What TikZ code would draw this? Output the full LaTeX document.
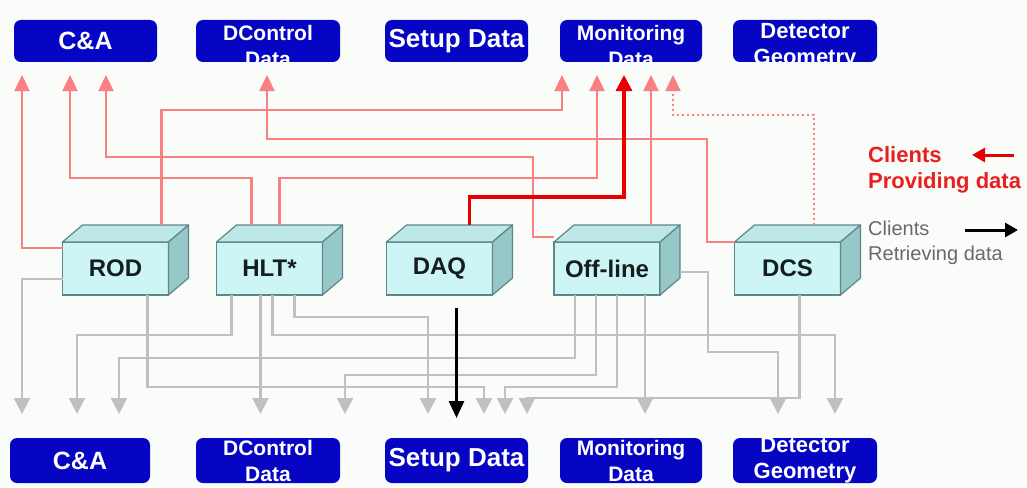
\documentclass[tikz,border=0pt]{standalone}
\usepackage{fontspec}
\setmainfont{Liberation Sans}
\usetikzlibrary{arrows.meta,calc}
\definecolor{bgc}{RGB}{250,252,250}
\definecolor{dbblue}{RGB}{5,5,195}
\definecolor{cubefrontc}{RGB}{205,245,245}
\definecolor{cubetopc}{RGB}{190,232,232}
\definecolor{cubesidec}{RGB}{150,200,200}
\definecolor{cubeedgec}{RGB}{95,135,135}
\definecolor{redlite}{RGB}{248,128,128}
\definecolor{redfull}{RGB}{232,0,0}
\definecolor{grayline}{RGB}{192,192,192}
\definecolor{legred}{RGB}{235,30,30}
\definecolor{leggray}{RGB}{105,105,105}
\tikzset{
  databox/.style={fill=dbblue, rounded corners=7pt, minimum height=42pt, inner sep=0pt, outer sep=0pt, text=white},
  boxlbl/.style={text=white, align=center, inner sep=0pt},
  cubefront/.style={draw=cubeedgec, fill=cubefrontc, line width=1.2pt, minimum width=106pt, minimum height=53pt, inner sep=0pt, outer sep=0pt, font=\bfseries\fontsize{24}{28}\selectfont, text={rgb,255:red,20;green,30;blue,30}},
  cubeface/.style={draw=cubeedgec, line width=1.2pt, line join=round},
  redarr/.style={draw=redlite, line width=2.3pt, -{Triangle[length=16pt,width=15pt]}, shorten >=13pt},
  redthick/.style={draw=redfull, line width=3.2pt, -{Triangle[length=16pt,width=16pt]}, shorten >=13pt},
  reddot/.style={draw=redlite, line width=2pt, dash pattern=on 2pt off 3pt, -{Triangle[length=16pt,width=15pt]}, shorten >=13pt},
  grayarr/.style={draw=grayline, line width=2.6pt, -{Triangle[length=16pt,width=16pt]}, shorten >=24pt},
  blackarr/.style={draw=black, line width=2.8pt, -{Triangle[length=17pt,width=15pt]}, shorten >=20pt},
  legredarr/.style={draw=redfull, line width=3pt, -{Triangle[length=13pt,width=14pt]}},
  legblackarr/.style={draw=black, line width=3pt, -{Triangle[length=13pt,width=14pt]}},
}
\newcommand\cubeblock[4]{%
  \node[cubefront] (#1) at (#2,#3) {#4};
  \filldraw[cubeface, fill=cubetopc] (#1.north west) -- ++(20,-17) -- ($(#1.north east)+(20,-17)$) -- (#1.north east) -- cycle;
  \filldraw[cubeface, fill=cubesidec] (#1.north east) -- ++(20,-17) -- ($(#1.south east)+(20,-17)$) -- (#1.south east) -- cycle;
}
% name, x, y, width, text, font size, height, text shift
\newcommand\twolinebox[8]{%
  \node[databox, minimum width=#4pt, minimum height=#7pt] (#1) at (#2,#3) {};
  \begin{scope}
    \clip[rounded corners=7pt] (#1.south west) rectangle (#1.north east);
    \node[boxlbl, font=\bfseries\fontsize{#6}{26}\selectfont] (#1t) at ($(#1.center)+(0,#8)$) {#5};
  \end{scope}}
\begin{document}
\begin{tikzpicture}[x=1pt,y=-1pt]
\fill[bgc] (0,0) rectangle (1027,487);
\useasboundingbox (0,0) rectangle (1027,487);

% top data boxes
\node[databox, minimum width=143pt, font=\bfseries\fontsize{25}{30}\selectfont] (ca) at (85.5,41) {C\&A};
\twolinebox{dc}{268}{41}{144}{DControl\\Data}{21}{42}{5}
\node[databox, minimum width=143pt, font=\bfseries\fontsize{26}{30}\selectfont] (sd) at (456.5,41) {Setup Data};
\twolinebox{mon}{631}{41}{142}{Monitoring\\Data}{21}{42}{5}
\twolinebox{det}{805}{41}{144}{Detector\\Geometry}{22}{42}{5}

% bottom data boxes
\node[databox, minimum width=140pt, minimum height=45pt, font=\bfseries\fontsize{25}{30}\selectfont] (bca) at (80,460.5) {C\&A};
\twolinebox{bdc}{268}{460.5}{144}{DControl\\Data}{21}{45}{0}
\node[databox, minimum width=143pt, minimum height=45pt, font=\bfseries\fontsize{26}{30}\selectfont] (bsd) at (456.5,460.5) {Setup Data};
\twolinebox{bmon}{631}{460.5}{142}{Monitoring\\Data}{21}{45}{0}
\twolinebox{bdet}{805}{460.5}{144}{Detector\\Geometry}{22}{45}{0}

% clients
\cubeblock{rod}{115.5}{268.5}{ROD}
\cubeblock{hlt}{269.5}{268.5}{HLT*}
\cubeblock{daq}{439.5}{268.5}{DAQ}
\cubeblock{off}{607}{268.5}{Off-line}
\cubeblock{dcs}{787.5}{268.5}{DCS}

% providing data (red)
\draw[redarr] ($(rod.north west)+(0,6)$) -| ($(ca.south west)+(8,0)$);
\draw[redarr] ($(hlt.north west)+(35,-17)$) |- (70,178) -- ($(ca.south west)+(56,0)$);
\draw[redarr] ($(off.north west)+(0,-5)$) -| (533,157) -| ($(ca.south west)+(92,0)$);
\draw[redarr] (dcs.north west) -| (707,139) -| ($(dc.south west)+(71,0)$);
\draw[redarr] ($(rod.north west)+(99,-17)$) |- (562,110) -- ($(mon.south west)+(2,0)$);
\draw[redarr] ($(hlt.north west)+(63,-17)$) |- (597,178) -- ($(mon.south west)+(37,0)$);
\draw[redarr] ($(off.north west)+(97,-17)$) -- ($(mon.south west)+(91,0)$);
\draw[reddot] ($(dcs.north west)+(79,-17)$) |- (673,115) -- ($(mon.south west)+(113,0)$);
\draw[redthick] ($(daq.north west)+(83,-17)$) |- (624,197) -- ($(mon.south west)+(64,0)$);

% retrieving data (gray)
\draw[grayarr] ($(rod.south west)+(0,-16)$) -| ($(bca.north west)+(12,0)$);
\draw[grayarr] ($(rod.south west)+(85,0)$) |- (484,387) -- ($(bsd.north west)+(99,0)$);
\draw[grayarr] ($(hlt.south west)+(15,0)$) |- (77,335) -- ($(bca.north west)+(67,0)$);
\draw[grayarr] ($(hlt.south west)+(44,0)$) -- ($(bdc.north west)+(64.5,0)$);
\draw[grayarr] ($(hlt.south west)+(56,0)$) |- (835,335) -- ($(bdet.north west)+(102,0)$);
\draw[grayarr] ($(hlt.south west)+(78,0)$) |- (428,317) -- ($(bsd.north west)+(43,0)$);
\draw[grayarr] ($(off.south west)+(21,0)$) |- (119,358) -- ($(bca.north west)+(109,0)$);
\draw[grayarr] ($(off.south west)+(42,0)$) |- (345,375) -- ($(bdc.north west)+(149,0)$);
\draw[grayarr] ($(off.south west)+(63,0)$) |- (505,387) -- ($(bsd.north west)+(120,0)$);
\draw[grayarr] ($(off.south west)+(91,0)$) -- ($(bmon.north west)+(85,0)$);
\draw[grayarr] ($(off.south east)+(20,-23)$) -| (708,352) -| ($(bdet.north west)+(45,0)$);
\draw[grayarr] ($(dcs.south west)+(65,0)$) |- (527,398) -- ($(bsd.north west)+(142,0)$);
\draw[blackarr] ($(daq.south west)+(70,13)$) -- ($(bsd.north west)+(71.5,0)$);

% legend
\node[anchor=west, text=legred, align=left, inner sep=0pt, font=\bfseries\fontsize{22}{26}\selectfont] (legprov) at (868,170) {Clients\\Providing data};
\coordinate (lra) at (1014,155);
\coordinate (lrb) at (972,155);
\draw[legredarr] (lra) -- (lrb);
\node[anchor=west, text=leggray, align=left, inner sep=0pt, font=\fontsize{20}{25}\selectfont] (legret) at (868,243) {Clients\\Retrieving data};
\coordinate (lba) at (965,230);
\coordinate (lbb) at (1018,230);
\draw[legblackarr] (lba) -- (lbb);
\end{tikzpicture}
\end{document}
